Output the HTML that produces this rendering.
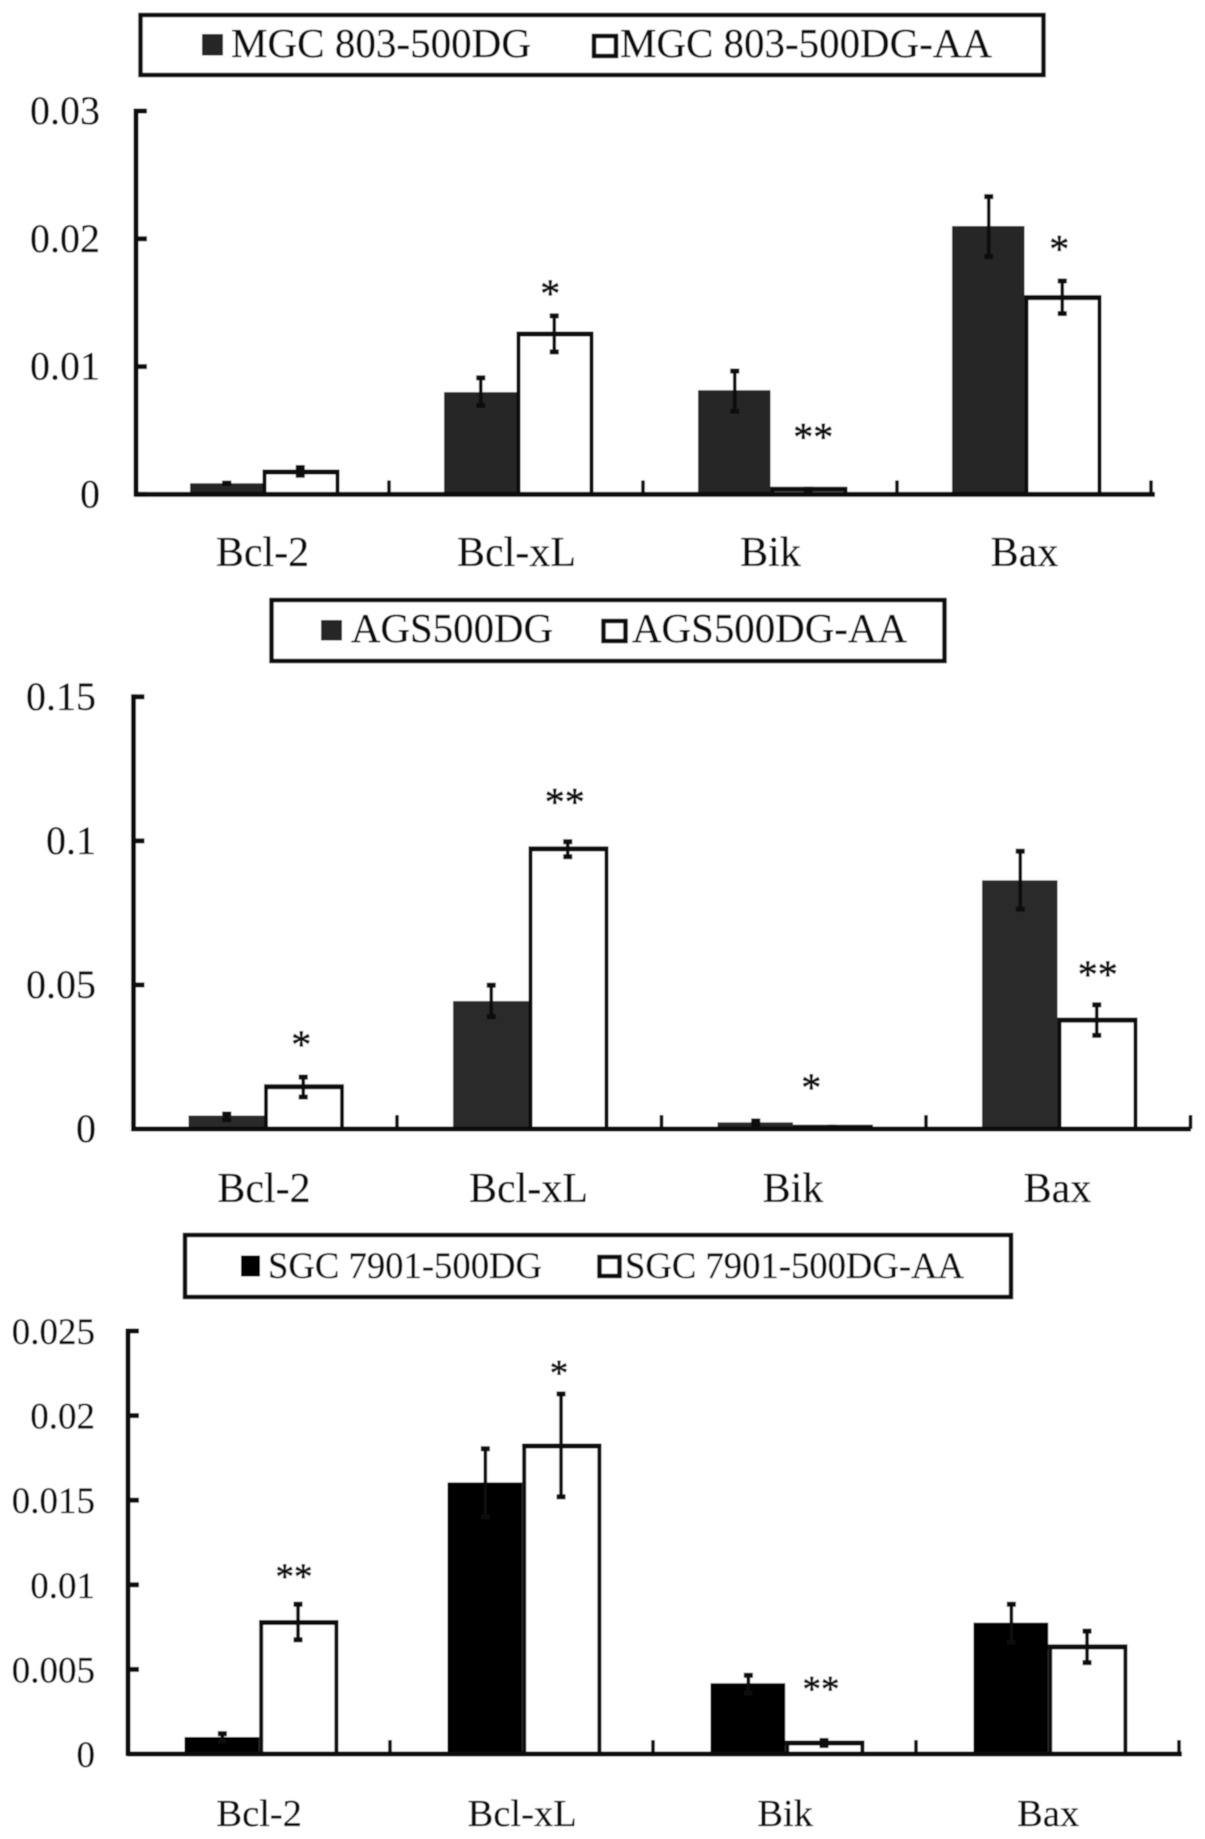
<!DOCTYPE html>
<html lang="en">
<head>
<meta charset="utf-8">
<title>Bcl-2 family expression in three gastric cancer cell lines</title>
<style>
html,body{margin:0;padding:0;background:#fff;}
svg{display:block;font-family:"Liberation Serif","Times New Roman",serif;}
svg text{fill:#0a0a0a;stroke:#0a0a0a;stroke-width:0.3px;}
</style>
</head>
<body>
<svg id="figure" width="1205" height="1839" viewBox="0 0 1205 1839" xmlns="http://www.w3.org/2000/svg">
  <defs><filter id="soft" x="-2%" y="-2%" width="104%" height="104%"><feGaussianBlur stdDeviation="0.55"/></filter></defs>
  <g filter="url(#soft)">
    <rect width="1205" height="1839" fill="#fff"/>

    <g>
      <rect x="140.5" y="15" width="903" height="60" fill="#fff" stroke="#0a0a0a" stroke-width="4.5"/>
      <rect x="202" y="34" width="21" height="21.5" fill="#262626"/>
      <text x="231" y="57" font-size="41" textLength="300" lengthAdjust="spacingAndGlyphs">MGC 803-500DG</text>
      <rect x="594" y="36" width="22" height="20" fill="#fff" stroke="#0a0a0a" stroke-width="4.5"/>
      <text x="620" y="57" font-size="41" textLength="372" lengthAdjust="spacingAndGlyphs">MGC 803-500DG-AA</text>
    </g>

    <g>
      <rect x="271.5" y="600" width="673" height="61" fill="#fff" stroke="#0a0a0a" stroke-width="4.5"/>
      <rect x="321" y="620" width="21" height="20.5" fill="#262626"/>
      <text x="351" y="642" font-size="41" textLength="202" lengthAdjust="spacingAndGlyphs">AGS500DG</text>
      <rect x="603.5" y="621" width="22" height="20" fill="#fff" stroke="#0a0a0a" stroke-width="4.5"/>
      <text x="632" y="642" font-size="41" textLength="275" lengthAdjust="spacingAndGlyphs">AGS500DG-AA</text>
    </g>

    <g>
      <rect x="185" y="1235" width="826" height="62" fill="#fff" stroke="#0a0a0a" stroke-width="4.5"/>
      <rect x="241" y="1255.5" width="19" height="21" fill="#000"/>
      <text x="268" y="1278" font-size="37" textLength="274" lengthAdjust="spacingAndGlyphs">SGC 7901-500DG</text>
      <rect x="599.5" y="1257" width="20" height="19" fill="#fff" stroke="#0a0a0a" stroke-width="4.5"/>
      <text x="625" y="1278" font-size="37" textLength="339" lengthAdjust="spacingAndGlyphs">SGC 7901-500DG-AA</text>
    </g>

    <g id="plots"></g>
  </g>
</svg>
<script>
// Shared category names
const categories = ['Bcl-2', 'Bcl-xL', 'Bik', 'Bax'];

// Panel 1: MGC 803-500DG vs MGC 803-500DG-AA
const mgcTicks = [0, 0.01, 0.02, 0.03];
const mgcTickLabels = ['0', '0.01', '0.02', '0.03'];
const mgcControl = [0.00087, 0.0080, 0.00815, 0.0210];
const mgcControlHigh = [0.00087, 0.00912, 0.00965, 0.0233];
const mgcControlLow = [0.00087, 0.00696, 0.0065, 0.0186];
const mgcTreated = [0.00175, 0.01255, 0.0004, 0.0154];
const mgcTreatedHigh = [0.0021, 0.01397, 0.0004, 0.0167];
const mgcTreatedLow = [0.0015, 0.01115, 0.0004, 0.01415];
const mgcMarks = ['', '*', '**', '*'];
const mgcMarkLevels = [0, 0.01615, 0.0049, 0.0196];

// Panel 2: AGS500DG vs AGS500DG-AA
const agsTicks = [0, 0.05, 0.1, 0.15];
const agsTickLabels = ['0', '0.05', '0.1', '0.15'];
const agsControl = [0.00466, 0.0444, 0.0023, 0.0863];
const agsControlHigh = [0.0052, 0.0499, 0.0028, 0.0964];
const agsControlLow = [0.0032, 0.039, 0.0018, 0.0763];
const agsTreated = [0.01465, 0.0972, 0.0006, 0.0378];
const agsTreatedHigh = [0.018, 0.0997, 0.0006, 0.0431];
const agsTreatedLow = [0.0111, 0.0945, 0.0006, 0.0325];
const agsMarks = ['*', '**', '*', '**'];
const agsMarkLevels = [0.0311, 0.1153, 0.0163, 0.0554];

// Panel 3: SGC 7901-500DG vs SGC 7901-500DG-AA
const sgcTicks = [0, 0.005, 0.01, 0.015, 0.02, 0.025];
const sgcTickLabels = ['0', '0.005', '0.01', '0.015', '0.02', '0.025'];
const sgcControl = [0.001, 0.01605, 0.00418, 0.00776];
const sgcControlHigh = [0.0012, 0.01804, 0.00465, 0.00885];
const sgcControlLow = [0.00075, 0.0140, 0.0036, 0.0066];
const sgcTreated = [0.00777, 0.0182, 0.00065, 0.00633];
const sgcTreatedHigh = [0.00885, 0.02128, 0.0008, 0.00726];
const sgcTreatedLow = [0.00675, 0.0152, 0.0005, 0.0054];
const sgcMarks = ['**', '*', '**', ''];
const sgcMarkLevels = [0.01078, 0.0228, 0.00414, 0];

const NS = 'http://www.w3.org/2000/svg';
const plots = document.getElementById('plots');

function make(parent, tag, props, text) {
  const el = document.createElementNS(NS, tag);
  Object.keys(props).forEach(function (k) { el.setAttribute(k, props[k]); });
  if (text !== undefined) el.textContent = text;
  parent.appendChild(el);
  return el;
}

function drawErrorBar(parent, cx, yHigh, yLow, name) {
  const err = make(parent, 'g', { stroke: '#0a0a0a', 'stroke-width': 3.6, fill: 'none' });
  
  
  make(err, 'line', { x1: cx, x2: cx, y1: yHigh, y2: yLow });
  make(err, 'line', { x1: cx - 4.5, x2: cx + 4.5, y1: yHigh, y2: yHigh, 'stroke-width': 5 });
  make(err, 'line', { x1: cx - 4.5, x2: cx + 4.5, y1: yLow, y2: yLow, 'stroke-width': 5 });
}

function drawPanel(p) {
  const yScale = function (v) { return p.y0 - v / p.maxValue * (p.y0 - p.yTop); };
  const groupX = function (i) { return p.x0 + i * p.catWidth + p.groupOffset; };

  const panel = make(plots, 'g', {});
  
  

  categories.forEach(function (cat, i) {
    const x = groupX(i);
    const slug = p.id + '-' + cat.toLowerCase();
    const split = x + p.barWidth - 1;
    const rightEdge = x + 2 * p.barWidth + 2.5;

    const darkTop = yScale(p.control[i]);
    const dark = make(panel, 'rect', { x: x, y: darkTop, width: split - x, height: p.y0 - darkTop, fill: p.darkColor });
    
    

    const whiteTop = yScale(p.treated[i]);
    const white = make(panel, 'rect', { x: split + 2, y: whiteTop, width: rightEdge - split - 4, height: p.y0 - whiteTop, fill: '#fff', stroke: '#0a0a0a', 'stroke-width': 4 });
    
    

    const whiteCap = make(panel, 'line', { x1: split, x2: rightEdge, y1: whiteTop, y2: whiteTop, stroke: '#0a0a0a', 'stroke-width': 5 });
    
    

    drawErrorBar(panel, x + p.barWidth / 2, yScale(p.controlHigh[i]), yScale(p.controlLow[i]), 'error-bar-control-' + slug);
    drawErrorBar(panel, x + p.barWidth * 1.5, yScale(p.treatedHigh[i]), yScale(p.treatedLow[i]), 'error-bar-treated-' + slug);

    if (p.marks[i]) {
      const mark = make(panel, 'text', { x: x + p.barWidth * 1.5 + p.markShift[i], y: yScale(p.markLevels[i]) + p.fontSize * 0.47, 'font-size': p.fontSize, 'text-anchor': 'middle', style: 'stroke-width:0.7px' }, p.marks[i]);
      
      
    }

    const label = make(panel, 'text', { x: x + p.barWidth - 1, y: p.catLabelY, 'font-size': p.catFontSize, 'text-anchor': 'middle' }, cat);
    
    
  });

  const yAxis = make(panel, 'line', { x1: p.x0 - 1, x2: p.x0 - 1, y1: p.yTop - 2.5, y2: p.y0 + 2, stroke: '#0a0a0a', 'stroke-width': 5 });
  
  

  const xAxis = make(panel, 'line', { x1: p.axisLeft, x2: p.axisRight, y1: p.y0, y2: p.y0, stroke: '#0a0a0a', 'stroke-width': 5 });
  
  

  p.ticks.forEach(function (t, i) {
    const y = yScale(t);
    const tick = make(panel, 'line', { x1: p.x0, x2: p.x0 + 10, y1: y, y2: y, stroke: '#0a0a0a', 'stroke-width': 5 });
    
    

    const tickLabel = make(panel, 'text', { x: p.yLabelRight, y: y + 13, 'font-size': p.fontSize, 'text-anchor': 'end' }, p.tickLabels[i]);
    
    
  });

  categories.forEach(function (cat, i) {
    const x = p.x0 + (i + 1) * p.catWidth - 2;
    const tick = make(panel, 'line', { x1: x, x2: x, y1: p.y0 - 14, y2: p.y0, stroke: '#0a0a0a', 'stroke-width': 3.6 });
    
    
  });
}

drawPanel({
  id: 'mgc803', ticks: mgcTicks, tickLabels: mgcTickLabels,
  control: mgcControl, controlHigh: mgcControlHigh, controlLow: mgcControlLow,
  treated: mgcTreated, treatedHigh: mgcTreatedHigh, treatedLow: mgcTreatedLow,
  marks: mgcMarks, markLevels: mgcMarkLevels, markShift: [0, -4, 5, -3],
  maxValue: 0.03, y0: 494.4, yTop: 111, x0: 137, catWidth: 254, groupOffset: 53, barWidth: 73.5,
  axisLeft: 134, axisRight: 1155, yLabelRight: 100, catLabelY: 566, fontSize: 40, catFontSize: 42, darkColor: '#262626'
});

drawPanel({
  id: 'ags', ticks: agsTicks, tickLabels: agsTickLabels,
  control: agsControl, controlHigh: agsControlHigh, controlLow: agsControlLow,
  treated: agsTreated, treatedHigh: agsTreatedHigh, treatedLow: agsTreatedLow,
  marks: agsMarks, markLevels: agsMarkLevels, markShift: [-2, -3, -21, 1],
  maxValue: 0.15, y0: 1129, yTop: 696.8, x0: 134.5, catWidth: 264.5, groupOffset: 54, barWidth: 76.5,
  axisLeft: 131, axisRight: 1191, yLabelRight: 96, catLabelY: 1202, fontSize: 40, catFontSize: 42, darkColor: '#2a2a2a'
});

drawPanel({
  id: 'sgc7901', ticks: sgcTicks, tickLabels: sgcTickLabels,
  control: sgcControl, controlHigh: sgcControlHigh, controlLow: sgcControlLow,
  treated: sgcTreated, treatedHigh: sgcTreatedHigh, treatedLow: sgcTreatedLow,
  marks: sgcMarks, markLevels: sgcMarkLevels, markShift: [-4, -2, -3, 0],
  maxValue: 0.025, y0: 1754, yTop: 1331, x0: 129, catWidth: 263, groupOffset: 55.5, barWidth: 75.7,
  axisLeft: 127, axisRight: 1182, yLabelRight: 95, catLabelY: 1826, fontSize: 37, catFontSize: 38.5, darkColor: '#000'
});
</script>
</body>
</html>
